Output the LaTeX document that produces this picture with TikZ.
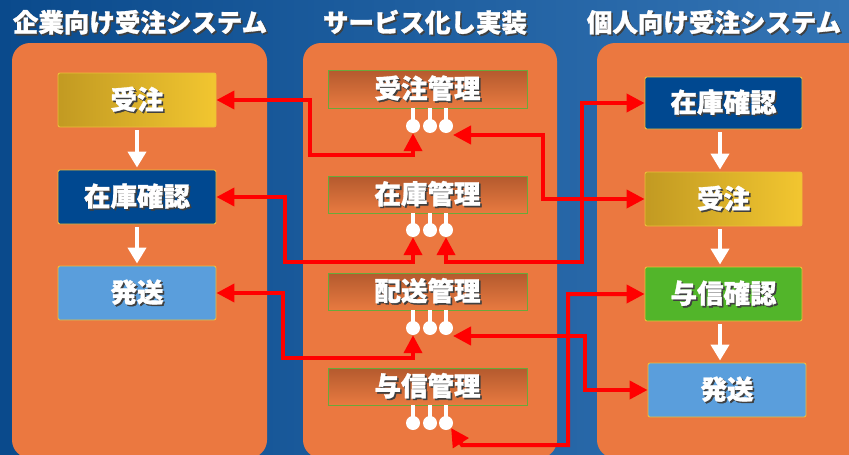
\documentclass[tikz,border=0pt]{standalone}
\usepackage{fontspec}
\newfontfamily\jp[BoldFeatures={FakeBold=1.2}]{Noto Sans CJK JP}
\usetikzlibrary{arrows.meta,calc}
\definecolor{bgdark}{HTML}{0A4A8C}
\definecolor{bglight}{HTML}{3474B4}
\definecolor{panelc}{HTML}{EB7840}
\definecolor{golda}{HTML}{C29A22}
\definecolor{goldb}{HTML}{F2C630}
\definecolor{navyc}{HTML}{004890}
\definecolor{skyc}{HTML}{5A9EDC}
\definecolor{greenc}{HTML}{52B52A}
\definecolor{boxedge}{HTML}{EDBE3A}
\definecolor{midtop}{HTML}{B45A2E}
\definecolor{midbot}{HTML}{E87A40}
\definecolor{midedge}{HTML}{6AA83A}
\newcommand\shd[1]{\makebox[0pt][l]{\hspace{1.6pt}\raisebox{-1.6pt}{\textcolor{black!75}{#1}}}#1}
\tikzset{
  titletext/.style={text=white,font=\jp\bfseries\fontsize{25.5}{27}\selectfont},
  sysbox/.style={draw=boxedge,line width=0.9pt,rounded corners=2pt,minimum width=158pt,minimum height=54pt,inner sep=0pt,text=white,font=\jp\bfseries\fontsize{26.5}{28}\selectfont},
  goldbox/.style={sysbox,left color=golda,right color=goldb},
  navybox/.style={sysbox,fill=navyc},
  skybox/.style={sysbox,fill=skyc},
  greenbox/.style={sysbox,fill=greenc},
  midbox/.style={draw=midedge,line width=0.9pt,top color=midtop,bottom color=midbot,minimum width=199pt,minimum height=38pt,inner sep=0pt,text=white,font=\jp\bfseries\fontsize{26.5}{28}\selectfont},
  pinball/.style={circle,fill=white,minimum size=14pt,inner sep=0pt},
  pinstem/.style={white,line width=4pt},
  conn/.style={red,line width=4pt,{Triangle[length=18pt,width=18pt]}-{Triangle[length=18pt,width=18pt]}},
  warrow/.style={white,line width=4pt,-{Triangle[length=16pt,width=18pt]},shorten <=3pt,shorten >=2pt},
}
\begin{document}
\begin{tikzpicture}[x=1pt,y=-1pt]
\useasboundingbox (0,0) rectangle (849,455);
\shade[left color=bgdark,right color=bglight] (0,0) rectangle (849,455);
% panels
\fill[panelc,rounded corners=18pt] (12,43) rectangle (267,458);
\fill[panelc,rounded corners=18pt] (303,43) rectangle (557,458);
\fill[panelc,rounded corners=18pt] (597,43) rectangle (870,458);
% titles
\node[titletext] (t1) at (140,23) {\shd{企業向け受注システム}};
\node[titletext] (t2) at (425,23) {\shd{サービス化し実装}};
\node[titletext] (t3) at (714,23) {\shd{個人向け受注システム}};
% left system
\node[goldbox] (L1) at (137,100) {\shd{受注}};
\node[navybox] (L2) at (137,197) {\shd{在庫確認}};
\node[skybox]  (L3) at (137,293) {\shd{発送}};
% right system
\node[navybox,minimum width=157pt,minimum height=52pt] (R1) at (723.5,103) {\shd{在庫確認}};
\node[goldbox,minimum width=157pt] (R2) at (723.5,199) {\shd{受注}};
\node[greenbox,minimum width=157pt] (R3) at (723.5,294) {\shd{与信確認}};
\node[skybox] (R4) at (727,390) {\shd{発送}};
% middle services
\node[midbox] (M1) at (427.5,89) {\shd{受注管理}};
\node[midbox,minimum height=37pt] (M2) at (427.5,194.5) {\shd{在庫管理}};
\node[midbox,minimum height=37pt] (M3) at (427.5,291.5) {\shd{配送管理}};
\node[midbox,minimum height=37pt] (M4) at (427.5,386.5) {\shd{与信管理}};
% pins
\foreach \m/\p/\yy in {M1/u/126,M2/v/230,M3/w/328,M4/x/423}{
  \node[pinball] (\p1) at (413,\yy) {};
  \node[pinball] (\p2) at (430,\yy) {};
  \node[pinball] (\p3) at (446,\yy) {};
  \draw[pinstem] (\p1.center) -- (\p1 |- \m.south);
  \draw[pinstem] (\p2.center) -- (\p2 |- \m.south);
  \draw[pinstem] (\p3.center) -- (\p3 |- \m.south);
}
% white flow arrows
\draw[warrow] (L1.south) -- (L2.north);
\draw[warrow] (L2.south) -- (L3.north);
\draw[warrow] (R1.south -| 720,0) -- (R2.north -| 720,0);
\draw[warrow] (R2.south -| 720,0) -- (R3.north -| 720,0);
\draw[warrow] (R3.south -| 720,0) -- (R4.north -| 720,0);
% red connectors
\draw[conn] (u1.south) |- (310,155) |- (L1.east);
\draw[conn] ($(u3)+(7,9)$) -| (543,199) -- (R2.west);
\draw[conn] (v1.south) |- (285,262) |- (L2.east);
\draw[conn] (v3.south) |- (582,262) |- (R1.west);
\draw[conn] (w1.south) |- (283,358) |- (L3.east);
\draw[conn] ($(w3)+(7,8)$) -| (585,390) -- (R4.west);
\draw[conn] (R3.west) -| (568,445) -- (462,445) -- (x3.south east);
\end{tikzpicture}
\end{document}
